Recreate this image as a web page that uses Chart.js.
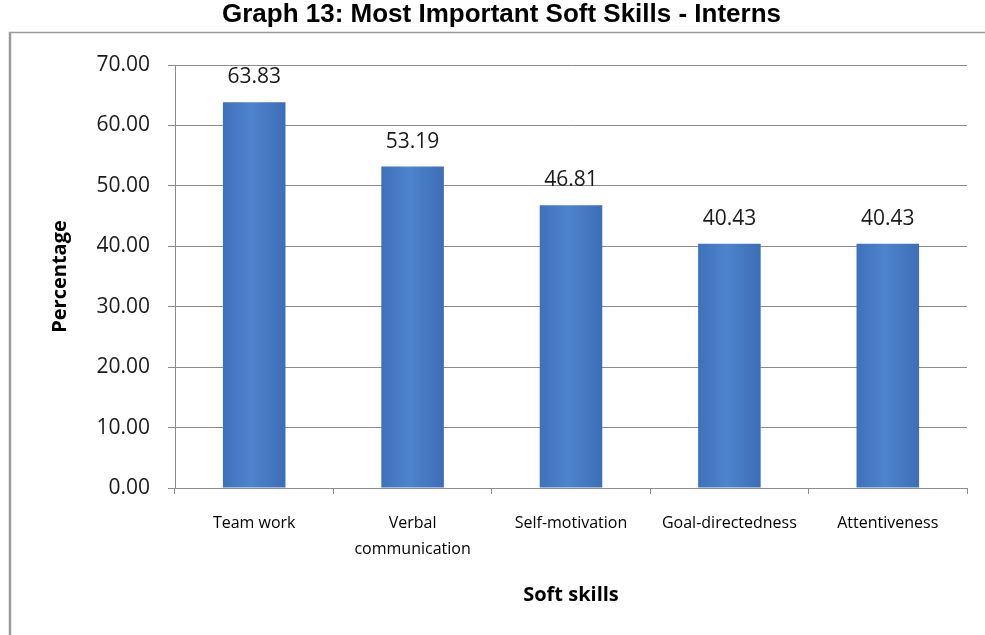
<!DOCTYPE html>
<html>
<head>
<meta charset="utf-8">
<script src="https://cdn.jsdelivr.net/npm/chart.js@4.4.1/dist/chart.umd.min.js"></script>
<style>
  html, body { margin: 0; padding: 0; background: #ffffff; }
  #wrap { width: 985px; height: 635px; position: relative; }
</style>
</head>
<body>
<div id="wrap"><canvas id="c" width="985" height="635"></canvas></div>
<script>
const chartTitle = 'Graph 13: Most Important Soft Skills - Interns';
const categories = ['Team work', ['Verbal', 'communication'], 'Self-motivation', 'Goal-directedness', 'Attentiveness'];
const percentages = [63.83, 53.19, 46.81, 40.43, 40.43];
const yTicks = [0, 10, 20, 30, 40, 50, 60, 70];
const xAxisTitle = 'Soft skills';
const yAxisTitle = 'Percentage';

const gridColor = '#8c8c8c';
const textColor = '#1a1a1a';
const BAR_PCT = 0.395;

const framePlugin = {
  id: 'frame',
  beforeDraw(chart) {
    const ctx = chart.ctx;
    ctx.save();
    ctx.fillStyle = '#ffffff';
    ctx.fillRect(0, 0, chart.width, chart.height);
    ctx.strokeStyle = '#9a9a9a';
    ctx.lineWidth = 2.5;
    ctx.beginPath();
    ctx.moveTo(10, 32);
    ctx.lineTo(10, chart.height);
    ctx.stroke();
    ctx.lineWidth = 1.5;
    ctx.beginPath();
    ctx.moveTo(9, 32.5);
    ctx.lineTo(chart.width, 32.5);
    ctx.stroke();
    ctx.restore();
  }
};

function barFill(c) {
  const chart = c.chart;
  const xs = chart.scales && chart.scales.x;
  if (!chart.chartArea || !xs || c.dataIndex === undefined) return '#4a7ec6';
  const cx = xs.getPixelForValue(c.dataIndex);
  const w = (xs.width / categories.length) * BAR_PCT;
  const g = chart.ctx.createLinearGradient(cx - w / 2, 0, cx + w / 2, 0);
  g.addColorStop(0, '#3f71bb');
  g.addColorStop(0.45, '#4d84cc');
  g.addColorStop(1, '#3d6eb7');
  return g;
}

const valueLabelPlugin = {
  id: 'valueLabels',
  afterDatasetsDraw(chart) {
    const ctx = chart.ctx;
    ctx.save();
    ctx.font = '21px "Open Sans"';
    ctx.fillStyle = textColor;
    ctx.textAlign = 'center';
    ctx.textBaseline = 'middle';
    const ds = chart.data.datasets[0];
    chart.getDatasetMeta(0).data.forEach((el, i) => {
      ctx.fillText(ds.data[i].toFixed(2), el.x, el.y - 25);
    });
    ctx.restore();
  }
};

new Chart(document.getElementById('c'), {
  type: 'bar',
  data: {
    labels: categories,
    datasets: [{
      data: percentages,
      backgroundColor: barFill,
      borderWidth: 0,
      categoryPercentage: 1.0,
      barPercentage: BAR_PCT
    }]
  },
  options: {
    responsive: false,
    animation: false,
    events: [],
    layout: { padding: { left: 18, right: 0, top: 0, bottom: 0 } },
    plugins: {
      legend: { display: false },
      tooltip: { enabled: false },
      title: {
        display: true,
        text: chartTitle,
        color: '#000000',
        font: { family: '"Liberation Sans", Arial, sans-serif', size: 26, weight: 'bold', lineHeight: 1.1 },
        padding: { top: 1, bottom: 35.4 }
      }
    },
    scales: {
      x: {
        grid: { display: true, drawOnChartArea: false, drawTicks: true, tickLength: 6, color: gridColor, offset: true },
        border: { display: true, color: gridColor, width: 1 },
        ticks: {
          color: '#000000',
          font: { family: '"Open Sans"', size: 16, lineHeight: 1.625 },
          padding: 16,
          maxRotation: 0,
          autoSkip: false
        },
        title: {
          display: true,
          text: xAxisTitle,
          color: '#000000',
          font: { family: '"Open Sans"', size: 20, weight: 'bold', lineHeight: 1.2 },
          padding: { top: 0, bottom: 28 }
        },
        afterFit(s) { s.height = 147; }
      },
      y: {
        position: 'left',
        min: 0,
        max: 70,
        afterBuildTicks(s) { s.ticks = yTicks.map(v => ({ value: v })); },
        grid: { color: gridColor, lineWidth: 1, drawTicks: true, tickLength: 7 },
        border: { display: true, color: gridColor, width: 1 },
        ticks: {
          color: textColor,
          font: { family: '"Open Sans"', size: 21 },
          padding: 18,
          callback: v => Number(v).toFixed(2)
        },
        title: {
          display: true,
          text: yAxisTitle,
          color: '#000000',
          font: { family: '"Open Sans"', size: 20, weight: 'bold', lineHeight: 1.2 },
          padding: { top: 30, bottom: 0 }
        },
        afterFit(s) { s.width = 157; }
      },
      yR: {
        position: 'right',
        display: true,
        min: 0,
        max: 70,
        ticks: { display: false },
        grid: { display: false },
        border: { display: false },
        afterFit(s) { s.width = 18; }
      }
    }
  },
  plugins: [framePlugin, valueLabelPlugin]
});
</script>
</body>
</html>
